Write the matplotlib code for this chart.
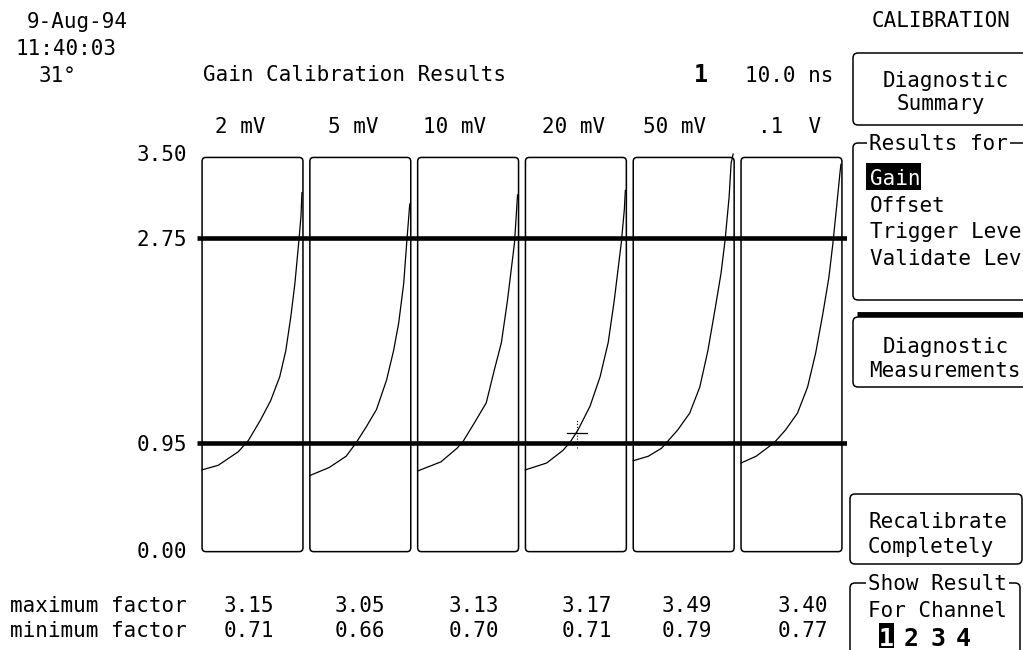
import matplotlib
matplotlib.use("Agg")
import matplotlib.pyplot as plt
from matplotlib.patches import FancyBboxPatch, Rectangle

# ---------------- data ----------------
ranges = ["2 mV", "5 mV", "10 mV", "20 mV", "50 mV", ".1  V"]
max_factor = [3.15, 3.05, 3.13, 3.17, 3.49, 3.40]
min_factor = [0.71, 0.66, 0.70, 0.71, 0.79, 0.77]
limit_lines = [2.75, 0.95]
ytick_vals = [0.00, 0.95, 2.75, 3.50]
ytick_labels = ["0.00", "0.95", "2.75", "3.50"]

# curve samples per range: fraction across the box, gain factor
curve_t_2mV = [0.00, 0.16, 0.36, 0.46, 0.58, 0.68, 0.77, 0.83, 0.88, 0.92, 0.96, 0.98, 0.99]
curve_v_2mV = [0.71, 0.75, 0.87, 0.97, 1.15, 1.32, 1.53, 1.76, 2.06, 2.35, 2.73, 2.94, 3.15]
curve_t_5mV = [0.00, 0.19, 0.36, 0.46, 0.56, 0.66, 0.76, 0.83, 0.88, 0.93, 0.96, 0.99]
curve_v_5mV = [0.66, 0.73, 0.83, 0.95, 1.09, 1.24, 1.50, 1.76, 2.00, 2.35, 2.71, 3.05]
curve_t_10mV = [0.00, 0.23, 0.39, 0.45, 0.56, 0.68, 0.76, 0.83, 0.89, 0.96, 0.99]
curve_v_10mV = [0.70, 0.78, 0.90, 0.96, 1.12, 1.30, 1.59, 1.83, 2.20, 2.71, 3.13]
curve_t_20mV = [0.00, 0.21, 0.37, 0.44, 0.52, 0.64, 0.74, 0.82, 0.88, 0.95, 0.98, 0.99]
curve_v_20mV = [0.71, 0.77, 0.88, 0.95, 1.06, 1.27, 1.53, 1.83, 2.20, 2.71, 3.00, 3.17]
curve_t_50mV = [0.00, 0.15, 0.28, 0.33, 0.44, 0.56, 0.66, 0.74, 0.81, 0.87, 0.91, 0.95, 0.97, 0.99]
curve_v_50mV = [0.79, 0.83, 0.90, 0.95, 1.06, 1.21, 1.44, 1.76, 2.12, 2.44, 2.73, 3.11, 3.41, 3.49]
curve_t_100mV = [0.00, 0.15, 0.33, 0.44, 0.56, 0.66, 0.74, 0.81, 0.87, 0.91, 0.95, 0.98, 0.99]
curve_v_100mV = [0.77, 0.83, 0.95, 1.06, 1.21, 1.44, 1.74, 2.08, 2.40, 2.70, 3.05, 3.32, 3.40]
curves_t = [curve_t_2mV, curve_t_5mV, curve_t_10mV, curve_t_20mV, curve_t_50mV, curve_t_100mV]
curves_v = [curve_v_2mV, curve_v_5mV, curve_v_10mV, curve_v_20mV, curve_v_50mV, curve_v_100mV]

cursor_x, cursor_y = 3.01, 1.03

# ---------------- figure ----------------
W, H = 1023, 650
FONT = "DejaVu Sans Mono"
FS = 15
fig = plt.figure(figsize=(W / 100, H / 100), dpi=100)
fig.patch.set_facecolor("white")

# pixel-space overlay for the instrument screen text
ui = fig.add_axes([0, 0, 1, 1])
ui.set_xlim(0, W)
ui.set_ylim(H, 0)
ui.axis("off")
ui.patch.set_visible(False)

def t(x, y, s, **kw):
    kw.setdefault("fontsize", FS)
    kw.setdefault("family", FONT)
    ui.text(x, y, s, ha=kw.pop("ha", "left"), va=kw.pop("va", "baseline"), **kw)

# header
t(27, 28, "9-Aug-94")
t(15, 55, "11:40:03")
t(39, 82, "31°")
t(203, 81, "Gain Calibration Results")
t(694, 82, "1", fontsize=17, fontweight="bold")
t(745, 82, "10.0 ns")
t(872, 27, "CALIBRATION")

# range labels
range_x = [215, 328, 423, 542, 643, 758]
for x, lab in zip(range_x, ranges):
    t(x, 133, lab)

# factor rows
t(10, 612, "maximum factor")
t(10, 637, "minimum factor")
val_x = [224, 335, 449, 562, 662, 778]
for x, mx, mn in zip(val_x, max_factor, min_factor):
    t(x, 612, f"{mx:.2f}")
    t(x, 637, f"{mn:.2f}")

# right-hand soft-key panel
def ui_box(x0, y0, x1, y1, lw=1.1):
    ui.add_patch(FancyBboxPatch((x0, y0), x1 - x0, y1 - y0,
                                boxstyle="round,pad=0,rounding_size=5",
                                fill=False, lw=lw, ec="black", clip_on=False))

ui_box(853, 53, 1040, 125)
t(883, 87, "Diagnostic")
t(897, 110, "Summary")

ui_box(853, 143, 1040, 300)
t(869, 150, "Results for", bbox=dict(fc="white", ec="none", pad=1.5))
ui.add_patch(Rectangle((866, 163), 55, 27, fc="black", ec="none"))
t(870, 185, "Gain", color="white")
t(870, 212, "Offset")
t(870, 238, "Trigger Leve")
t(870, 265, "Validate Lev")

ui.plot([857, 1023], [314, 314], color="black", lw=3.5, solid_capstyle="butt")
ui_box(853, 317, 1040, 387)
t(883, 353, "Diagnostic")
t(869, 377, "Measurements")

ui_box(850, 494, 1022, 564)
t(868, 528, "Recalibrate")
t(868, 553, "Completely")

ui_box(850, 583, 1020, 680)
t(868, 590, "Show Result", bbox=dict(fc="white", ec="none", pad=1.5))
t(868, 617, "For Channel")
ui.add_patch(Rectangle((879, 623), 15, 25, fc="black", ec="none"))
t(886.5, 646, "1", fontsize=18, fontweight="bold", color="white", ha="center")
for x, d in zip([911, 938, 963], ["2", "3", "4"]):
    t(x, 646, d, fontsize=18, fontweight="bold", ha="center")

# ---------------- main plot ----------------
y_bot_px, y_top_px = 550.5, 152.9
ax = fig.add_axes([197 / W, (H - y_bot_px) / H, 650 / W, (y_bot_px - y_top_px) / H])
ax.patch.set_visible(False)
ax.set_xlim(-0.515, 5.515)
ax.set_ylim(0, 3.5)
for s in ax.spines.values():
    s.set_visible(False)
ax.set_xticks([])
ax.set_yticks(ytick_vals)
ax.set_yticklabels(ytick_labels, family=FONT, fontsize=FS)
ax.tick_params(axis="y", length=0, pad=7)

half = 0.468
for i in range(len(ranges)):
    ax.add_patch(FancyBboxPatch((i - half, -0.01), 2 * half, 3.47,
                                boxstyle="round,pad=0,rounding_size=0.035",
                                fill=False, lw=1.1, ec="black", clip_on=False))
    xs = [i - half + tt * 2 * half for tt in curves_t[i]]
    ax.plot(xs, curves_v[i], color="black", lw=0.9, clip_on=False)

for v in limit_lines:
    ax.axhline(v, color="black", lw=3.3, solid_capstyle="butt")

# cursor
ax.plot([cursor_x - 0.093, cursor_x + 0.093], [cursor_y, cursor_y], color="black", lw=0.9)
ax.plot([cursor_x, cursor_x], [cursor_y - 0.13, cursor_y + 0.12], color="black", lw=0.8, ls=":")

fig.savefig("out.png", dpi=100, facecolor="white")
